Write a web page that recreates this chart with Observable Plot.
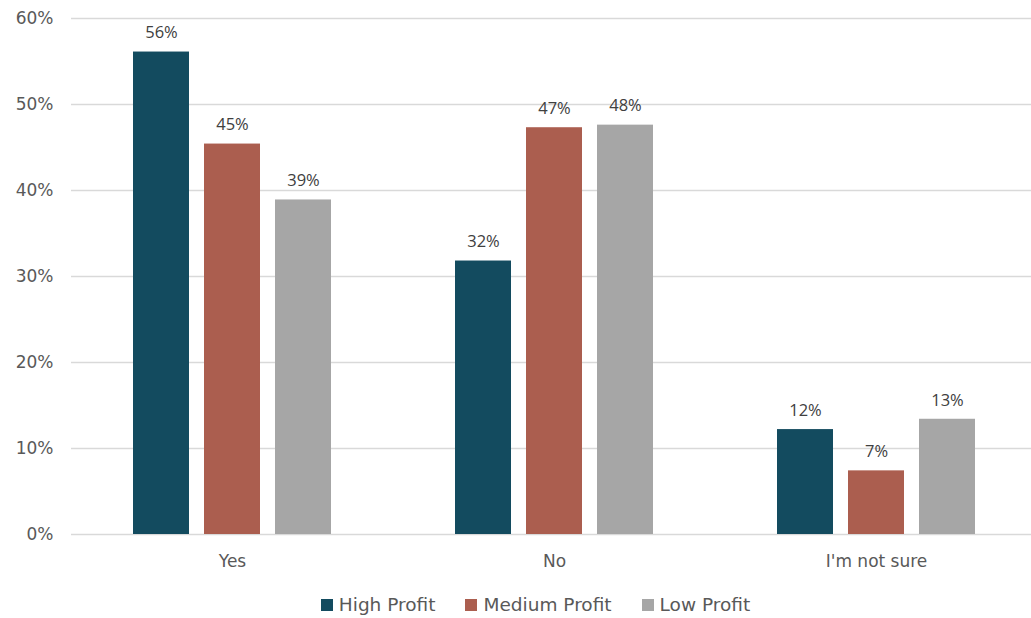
<!DOCTYPE html>
<html>
<head>
<meta charset="utf-8">
<script src="https://cdn.jsdelivr.net/npm/d3@7"></script>
<script src="https://cdn.jsdelivr.net/npm/@observablehq/plot@0.6"></script>
<style>
  body { margin: 0; background: #fff; overflow: hidden; }
  #chart svg { overflow: hidden; }
  #legend { display: flex; justify-content: center; align-items: center; gap: 30px;
    font-family: "DejaVu Sans", sans-serif; font-size: 18.5px; color: #595959; margin-top: 16px; padding-left: 40px; }
  .item { display: flex; align-items: center; gap: 6px; }
  .sw { width: 12px; height: 12px; display: inline-block; }
</style>
</head>
<body>
<div id="chart"></div>
<div id="legend"></div>
<script>
const categories = ["Yes", "No", "I'm not sure"];
const series = ["High Profit", "Medium Profit", "Low Profit"];
const highProfit = [0.561, 0.318, 0.122];
const mediumProfit = [0.454, 0.473, 0.074];
const lowProfit = [0.389, 0.476, 0.134];
const colors = ["#134B5F", "#AB5E4F", "#A6A6A6"];
const yTicks = [0, 0.1, 0.2, 0.3, 0.4, 0.5, 0.6];

const seriesValues = [highProfit, mediumProfit, lowProfit];
const data = [];
categories.forEach((c, i) => series.forEach((s, j) => data.push({category: c, series: s, value: seriesValues[j][i]})));

const chart = Plot.plot({
  width: 1031,
  height: 578,
  marginLeft: 70,
  marginRight: -7,
  marginTop: 18,
  marginBottom: 44,
  style: {fontFamily: "DejaVu Sans, sans-serif", fontSize: "17px", color: "#595959", background: "#fff"},
  fx: {domain: categories, padding: 0, label: null, tickSize: 0, tickPadding: 20},
  x: {domain: series, axis: null, paddingInner: 0.21, paddingOuter: 0.86},
  y: {domain: [0, 0.6], ticks: yTicks, tickFormat: d => Math.round(d * 100) + "%", label: null, tickSize: 0, tickPadding: 18},
  color: {domain: series, range: colors},
  marks: [
    Plot.ruleY(yTicks, {stroke: "#d9d9d9", strokeWidth: 1.4}),
    Plot.barY(data, {fx: "category", x: "series", y: "value", fill: "series"}),
    Plot.text(data, {fx: "category", x: "series", y: "value", text: d => Math.round(d.value * 100) + "%",
      dy: -19, fill: "#404040", fontSize: 16.5, fontFamily: "Open Sans, sans-serif"})
  ]
});
document.getElementById("chart").appendChild(chart);

const legend = document.getElementById("legend");
series.forEach((s, i) => {
  const item = document.createElement("div");
  item.className = "item";
  item.innerHTML = `<span class="sw" style="background:${colors[i]}"></span><span>${s}</span>`;
  legend.appendChild(item);
});
</script>
</body>
</html>
